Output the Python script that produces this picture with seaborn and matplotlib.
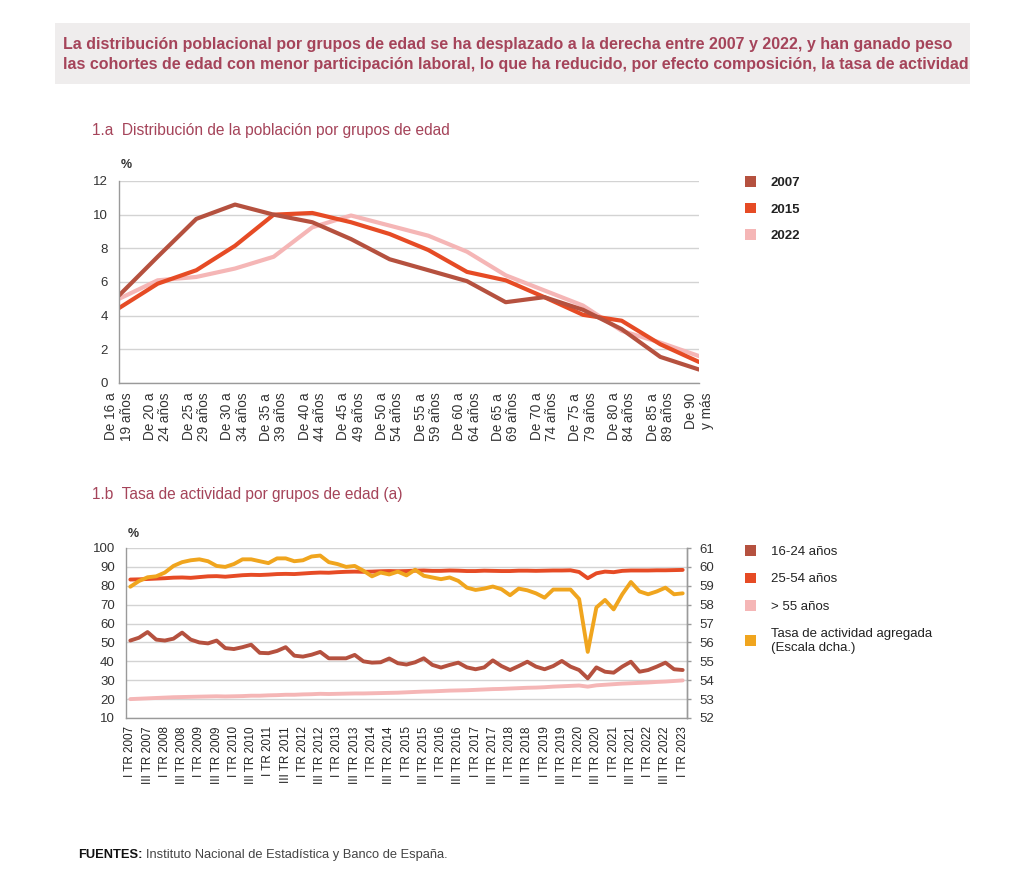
import numpy as np
import pandas as pd
import matplotlib
matplotlib.use("Agg")
import matplotlib.pyplot as plt
import seaborn as sns
from matplotlib.patches import Patch, Rectangle

# ---------------- data ----------------
age_groups = ["De 16 a\n19 años", "De 20 a\n24 años", "De 25 a\n29 años", "De 30 a\n34 años",
              "De 35 a\n39 años", "De 40 a\n44 años", "De 45 a\n49 años", "De 50 a\n54 años",
              "De 55 a\n59 años", "De 60 a\n64 años", "De 65 a\n69 años", "De 70 a\n74 años",
              "De 75 a\n79 años", "De 80 a\n84 años", "De 85 a\n89 años", "De 90\ny más"]
pop_2007 = [5.2, 7.5, 9.75, 10.6, 10.0, 9.55, 8.55, 7.35, 6.7, 6.05, 4.8, 5.1, 4.35, 3.2, 1.55, 0.8]
pop_2015 = [4.45, 5.9, 6.7, 8.15, 10.0, 10.1, 9.55, 8.85, 7.9, 6.6, 6.1, 5.1, 4.05, 3.7, 2.3, 1.25]
pop_2022 = [5.0, 6.1, 6.3, 6.8, 7.5, 9.25, 9.95, 9.35, 8.75, 7.8, 6.4, 5.5, 4.6, 3.1, 2.4, 1.6]
pop_years = ["2007", "2015", "2022"]

quarters = [f"{q} TR {y}" for y in range(2007, 2024) for q in ("I", "II", "III", "IV")][:65]
rate_16_24 = [51.0, 52.5, 55.5, 51.5, 51.0, 52.0, 55.2, 51.5, 50.0, 49.5,
              51.0, 47.0, 46.5, 47.5, 48.8, 44.5, 44.3, 45.5, 47.5, 43.0,
              42.5, 43.5, 45.0, 41.6, 41.6, 41.6, 43.4, 40.0, 39.3, 39.5,
              41.5, 39.0, 38.3, 39.5, 41.6, 38.1, 36.7, 38.1, 39.3, 36.8,
              35.8, 36.8, 40.5, 37.5, 35.4, 37.5, 39.8, 37.2, 35.8, 37.5,
              40.2, 37.2, 35.4, 31.0, 36.8, 34.5, 34.0, 37.2, 39.8, 34.5,
              35.4, 37.2, 39.3, 35.8, 35.4]
rate_25_54 = [83.3, 83.4, 83.6, 83.8, 84.0, 84.3, 84.4, 84.2, 84.6, 85.0,
              85.1, 84.8, 85.2, 85.6, 85.8, 85.7, 85.9, 86.2, 86.3, 86.2,
              86.5, 86.8, 87.0, 86.9, 87.2, 87.4, 87.5, 87.4, 87.5, 87.7,
              87.8, 87.7, 87.8, 88.0, 88.1, 87.9, 87.9, 88.1, 88.0, 87.8,
              87.8, 88.0, 87.9, 87.8, 87.8, 88.0, 88.0, 87.9, 88.0, 88.1,
              88.1, 88.2, 87.3, 84.0, 86.6, 87.5, 87.2, 87.9, 88.1, 88.1,
              88.1, 88.2, 88.2, 88.3, 88.4]
rate_55 = [20.0, 20.2, 20.4, 20.6, 20.8, 21.0, 21.1, 21.2, 21.3, 21.4,
           21.5, 21.4, 21.5, 21.6, 21.8, 21.8, 22.0, 22.1, 22.3, 22.3,
           22.5, 22.6, 22.8, 22.7, 22.8, 22.9, 23.0, 23.0, 23.1, 23.2,
           23.3, 23.4, 23.6, 23.8, 24.0, 24.1, 24.3, 24.5, 24.6, 24.7,
           24.9, 25.1, 25.3, 25.4, 25.6, 25.8, 26.0, 26.1, 26.3, 26.6,
           26.8, 27.0, 27.2, 26.6, 27.3, 27.6, 27.9, 28.2, 28.4, 28.6,
           28.8, 29.1, 29.3, 29.6, 29.9]
rate_total = [58.95, 59.25, 59.45, 59.5, 59.7, 60.05, 60.25, 60.35, 60.4, 60.3,
              60.05, 60.0, 60.15, 60.4, 60.4, 60.3, 60.2, 60.45, 60.45, 60.3,
              60.35, 60.55, 60.6, 60.25, 60.15, 60.0, 60.05, 59.8, 59.5, 59.7,
              59.6, 59.75, 59.55, 59.85, 59.53, 59.44, 59.35, 59.44, 59.26, 58.9,
              58.78, 58.85, 58.96, 58.82, 58.5, 58.85, 58.76, 58.6, 58.37, 58.8,
              58.8, 58.8, 58.3, 55.5, 57.85, 58.25, 57.75, 58.55, 59.2, 58.7,
              58.55, 58.7, 58.9, 58.55, 58.6]
rate_groups = ["16-24 años", "25-54 años", "> 55 años"]
total_label = "Tasa de actividad agregada\n(Escala dcha.)"

title_lines = ["La distribución poblacional por grupos de edad se ha desplazado a la derecha entre 2007 y 2022, y han ganado peso",
               "las cohortes de edad con menor participación laboral, lo que ha reducido, por efecto composición, la tasa de actividad"]
title_a = "1.a  Distribución de la población por grupos de edad"
title_b = "1.b  Tasa de actividad por grupos de edad (a)"

# ---------------- style ----------------
sns.set_theme(style="white")
plt.rcParams['font.family'] = ['Liberation Sans', 'DejaVu Sans']

c_dark = '#b5513f'
c_mid = '#e64b25'
c_light = '#f5b6b6'
c_tot = '#f0a51e'
grid_c = '#d3d3d3'
spine_c = '#9a9a9a'
txt_c = '#333333'
rose = '#a5445a'

W, H = 1024, 881
fig = plt.figure(figsize=(W / 100, H / 100), dpi=100)
fig.patch.set_facecolor('white')

def fx(px):
    return px / W

def fy(py):
    return 1 - py / H

# ---------------- header box ----------------
fig.patches.append(Rectangle((fx(55), fy(84)), fx(970) - fx(55), (84 - 23) / H,
                             transform=fig.transFigure, facecolor='#efeded', edgecolor='none', zorder=0))
tl = []
for i, line in enumerate(title_lines):
    t = fig.text(fx(63), fy(44 + 21 * i), line, ha='left', va='center', color=rose,
                 fontweight='bold', fontsize=12)
    tl.append(t)
fig.canvas.draw()
r = fig.canvas.get_renderer()
w_max = max(t.get_window_extent(r).width for t in tl)
s = 902.0 / w_max
for t in tl:
    t.set_fontsize(12 * s)

# ---------------- panel 1a ----------------
ax1 = fig.add_axes([fx(119), fy(383), (699 - 119) / W, (383 - 181) / H])
df_a = pd.DataFrame({
    'idx': list(range(len(age_groups))) * 3,
    'value': pop_2007 + pop_2015 + pop_2022,
    'year': [pop_years[0]] * 16 + [pop_years[1]] * 16 + [pop_years[2]] * 16,
})
pal_a = {pop_years[0]: c_dark, pop_years[1]: c_mid, pop_years[2]: c_light}
sns.lineplot(data=df_a, x='idx', y='value', hue='year', palette=pal_a, linewidth=3.0,
             ax=ax1, legend=False, hue_order=[pop_years[2], pop_years[1], pop_years[0]])
ax1.set_xlim(0, 15)
ax1.set_ylim(0, 12)
ax1.set_yticks(range(0, 13, 2))
ax1.set_xticks(range(16))
ax1.set_xticklabels(age_groups, rotation=90, fontsize=9.8, color=txt_c, va='top', ha='center',
                    multialignment='right', linespacing=1.12)
ax1.tick_params(axis='y', length=0, labelsize=9.5, labelcolor=txt_c, pad=8)
ax1.tick_params(axis='x', length=4, width=1, color=spine_c, direction='out', pad=3)
ax1.yaxis.grid(True, color=grid_c, linewidth=1)
ax1.xaxis.grid(False)
ax1.set_axisbelow(True)
for sp in ['top', 'right']:
    ax1.spines[sp].set_visible(False)
for sp in ['left', 'bottom']:
    ax1.spines[sp].set_color(spine_c)
    ax1.spines[sp].set_linewidth(1)
ax1.set_xlabel('')
ax1.set_ylabel('')

fig.text(fx(92), fy(131), title_a, ha='left', va='center', color=rose, fontsize=11.2)
fig.text(fx(121), fy(165), '%', ha='left', va='center', color=txt_c, fontsize=9, fontweight='bold')

handles_a = [Patch(facecolor=pal_a[y], edgecolor='none', label=y) for y in pop_years]
leg_a = fig.legend(handles=handles_a, loc='upper left', bbox_to_anchor=(fx(745), fy(176)),
                   frameon=False, fontsize=9.5, handlelength=0.85, handleheight=0.85,
                   handletextpad=1.1, labelspacing=1.05, borderpad=0, borderaxespad=0)
for t in leg_a.get_texts():
    t.set_fontweight('bold')
    t.set_color('#222222')

# ---------------- panel 1b ----------------
ax2 = fig.add_axes([fx(126), fy(718), (687 - 126) / W, (718 - 548) / H])
n = len(quarters)
df_b = pd.DataFrame({
    'idx': list(range(n)) * 3,
    'value': rate_16_24 + rate_25_54 + rate_55,
    'group': [rate_groups[0]] * n + [rate_groups[1]] * n + [rate_groups[2]] * n,
})
pal_b = {rate_groups[0]: c_dark, rate_groups[1]: c_mid, rate_groups[2]: c_light}
sns.lineplot(data=df_b, x='idx', y='value', hue='group', palette=pal_b, linewidth=2.8,
             ax=ax2, legend=False, hue_order=[rate_groups[2], rate_groups[0], rate_groups[1]])
ax2.set_xlim(-0.5, n - 0.5)
ax2.set_ylim(10, 100)
ax2.set_yticks(range(10, 101, 10))
ax2.set_xticks(range(0, n, 2))
ax2.set_xticklabels(quarters[::2], rotation=90, fontsize=8.4, color='#222222', va='top', ha='center')
ax2.set_xticks(np.arange(-0.5, n, 1.0), minor=True)
ax2.tick_params(axis='x', which='major', length=0, pad=6)
ax2.tick_params(axis='x', which='minor', length=4, width=1, color=spine_c, direction='out')
ax2.tick_params(axis='y', length=0, labelsize=9.5, labelcolor=txt_c, pad=8)
ax2.yaxis.grid(True, color=grid_c, linewidth=1)
ax2.xaxis.grid(False)
ax2.set_axisbelow(True)
ax2.spines['top'].set_visible(False)
for sp in ['left', 'bottom', 'right']:
    ax2.spines[sp].set_color(spine_c)
    ax2.spines[sp].set_linewidth(1)
ax2.set_xlabel('')
ax2.set_ylabel('')

ax3 = ax2.twinx()
df_t = pd.DataFrame({'idx': list(range(n)), 'value': rate_total})
sns.lineplot(data=df_t, x='idx', y='value', color=c_tot, linewidth=2.8, ax=ax3)
ax3.set_ylim(52, 61)
ax3.set_yticks(range(52, 62))
ax3.set_xlim(-0.5, n - 0.5)
ax3.tick_params(axis='y', length=3, width=1, color=spine_c, labelsize=9.5, labelcolor=txt_c, pad=6)
ax3.grid(False)
for sp in ['top', 'left', 'bottom']:
    ax3.spines[sp].set_visible(False)
ax3.spines['right'].set_color(spine_c)
ax3.spines['right'].set_linewidth(1)
ax3.set_ylabel('')
ax3.set_xlabel('')

fig.text(fx(92), fy(495), title_b, ha='left', va='center', color=rose, fontsize=11.2)
fig.text(fx(128), fy(534), '%', ha='left', va='center', color=txt_c, fontsize=9, fontweight='bold')

handles_b = [Patch(facecolor=pal_b[g], edgecolor='none', label=g) for g in rate_groups]
handles_b.append(Patch(facecolor=c_tot, edgecolor='none', label=total_label))
leg_b = fig.legend(handles=handles_b, loc='upper left', bbox_to_anchor=(fx(745), fy(545)),
                   frameon=False, fontsize=9.5, handlelength=0.85, handleheight=0.85,
                   handletextpad=1.1, labelspacing=1.12, borderpad=0, borderaxespad=0)
for t in leg_b.get_texts():
    t.set_color('#222222')

# ---------------- footer ----------------
ft = fig.text(fx(78), fy(855), 'FUENTES:', ha='left', va='center', color='#111111',
              fontsize=9.3, fontweight='bold')
fig.canvas.draw()
r = fig.canvas.get_renderer()
bb = ft.get_window_extent(r)
fig.text(fx(bb.x1 + 4), fy(855), 'Instituto Nacional de Estadística y Banco de España.',
         ha='left', va='center', color='#444444', fontsize=9.3)

fig.savefig('out.png', dpi=100, facecolor='white')
